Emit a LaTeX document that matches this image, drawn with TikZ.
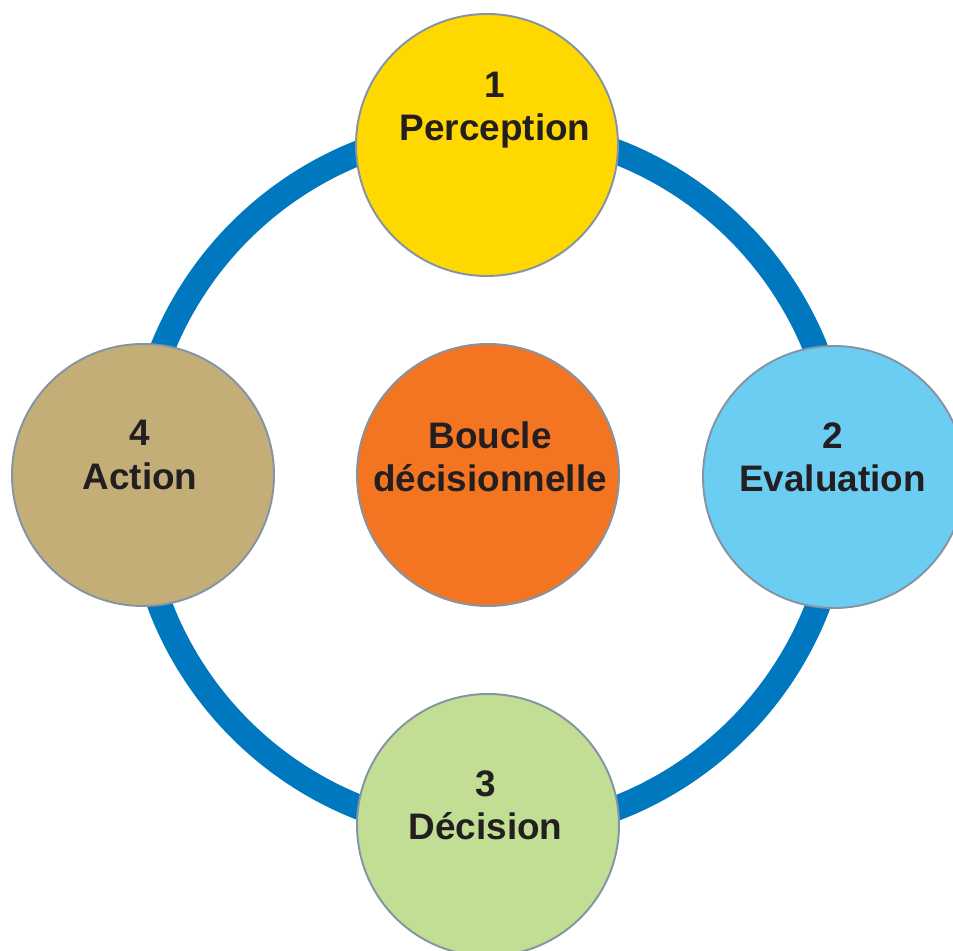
\documentclass[tikz,border=0pt]{standalone}
\usepackage{fontspec}
\setmainfont{Liberation Sans}
\definecolor{ringblue}{HTML}{0078BF}
\definecolor{bordgris}{HTML}{8494A4}
\definecolor{texte}{HTML}{231F20}
\definecolor{orangevif}{HTML}{F47521}
\definecolor{jaune}{HTML}{FFD800}
\definecolor{bleuclair}{HTML}{6CCDF2}
\definecolor{vert}{HTML}{C2DD94}
\definecolor{beige}{HTML}{C4AE78}
\begin{document}
\begin{tikzpicture}[x=1cm,y=1cm,
		etape/.style={circle,draw=bordgris,line width=1.1pt,minimum size=5.24cm,inner sep=0pt},
		etiq/.style={font=\bfseries\fontsize{21}{24.5}\selectfont,text=texte,align=center}]
	\useasboundingbox (0,0) rectangle (19.06,19);
	\coordinate (centre) at (9.78,9.4);
	\draw[line width=0.5cm,ringblue] (centre) circle (7.04);
	\node[etape,fill=orangevif,label={[etiq,yshift=0.36cm,xshift=0.04cm]center:Boucle\\décisionnelle}] (boucle) at (9.76,9.5) {};
	\foreach \nom/\x/\y/\coul/\dx/\dy/\num/\txt in {perception/9.74/16.1/jaune/0.16/0.7/1/Perception,
			evaluation/16.68/9.46/bleuclair/-0.03/0.4/2/Evaluation,
			decision/9.76/2.5/vert/-0.05/0.4/3/Décision,
			action/2.86/9.5/beige/-0.06/0.4/4/Action}{
		\node[etape,fill=\coul,label={[etiq,xshift=\dx cm,yshift=\dy cm]center:\num\\\txt}] (\nom) at (\x,\y) {};
	}
\end{tikzpicture}
\end{document}
